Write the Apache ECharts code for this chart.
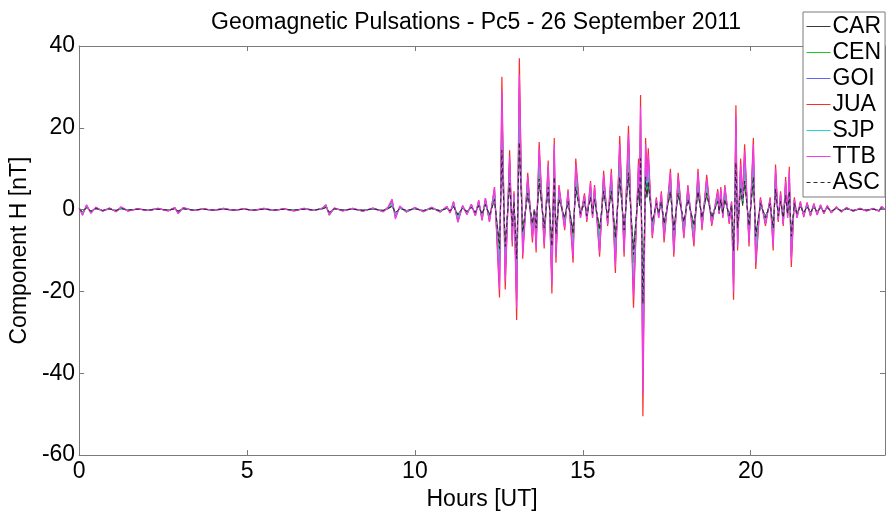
<!DOCTYPE html>
<html>
<head>
<meta charset="utf-8">
<script src="https://cdn.jsdelivr.net/npm/echarts@6/dist/echarts.min.js"></script>
<style>
  html, body { margin: 0; padding: 0; background: #fff; }
  #chart { width: 886px; height: 516px; }
</style>
</head>
<body>
<div id="chart"></div>
<script>
// Pc5 band-filtered H component, 26 September 2011 (hours UT vs nT)
const hours = [
  0, 0.1, 0.22, 0.35, 0.5, 0.7, 0.9, 1.1, 1.25, 1.45,
  1.75, 2.05, 2.35, 2.65, 2.85, 2.95, 3.1, 3.4, 3.7, 4.0,
  4.3, 4.6, 4.9, 5.2, 5.5, 5.8, 6.1, 6.4, 6.7, 7.0,
  7.25, 7.35, 7.45, 7.6, 7.85, 8.15, 8.45, 8.75, 9.05, 9.2,
  9.32, 9.42, 9.55, 9.75, 10.0, 10.25, 10.5, 10.75, 10.95, 11.05,
  11.15, 11.28, 11.42, 11.55, 11.68, 11.8, 11.9, 12.0, 12.1, 12.22, 12.37,
  12.52, 12.59, 12.69, 12.82, 12.9, 12.95, 13.03, 13.11, 13.21, 13.36,
  13.5, 13.56, 13.61, 13.7, 13.85, 13.97, 14.08, 14.15, 14.2, 14.29,
  14.46, 14.56, 14.71, 14.79, 14.93, 15.05, 15.12, 15.23, 15.29, 15.35,
  15.5, 15.62, 15.74, 15.85, 15.97, 16.1, 16.23, 16.36, 16.51, 16.66,
  16.69, 16.72, 16.79, 16.87, 16.91, 16.95, 17.07, 17.19, 17.26, 17.34,
  17.42, 17.61, 17.71, 17.84, 18.01, 18.13, 18.31, 18.43, 18.55, 18.69,
  18.84, 19.02, 19.06, 19.11, 19.17, 19.23, 19.36, 19.43, 19.49, 19.56,
  19.61, 19.7, 19.76, 19.82, 19.95, 20.08, 20.15, 20.29, 20.44, 20.58,
  20.67, 20.74, 20.82, 20.89, 20.97, 21.04, 21.1, 21.15, 21.21, 21.3, 21.38,
  21.48, 21.58, 21.68, 21.78, 21.88, 21.98, 22.08, 22.18, 22.28, 22.4,
  22.55, 22.7, 22.85, 23.05, 23.25, 23.45, 23.65, 23.82, 23.9, 24.0
];

const car = [
  0.3, -0.5, 0.4, -0.3, 0.2, -0.2, 0.1, -0.2, 0.2, -0.1,
  0.1, -0.1, 0.1, -0.1, 0.2, -0.3, 0.2, -0.1, 0.1, -0.1,
  0.1, -0.1, 0.1, -0.1, 0.1, -0.1, 0.1, -0.1, 0.1, -0.1,
  0.2, 0.6, -0.7, 0.2, -0.1, 0.1, -0.1, 0.1, -0.2, 0.2,
  0.8, -0.7, 0.3, -0.2, 0.2, -0.2, 0.2, -0.2, 0.3, -0.3,
  0.7, -1.1, 0.4, -0.4, 0.5, -0.6, 0.9, -1.0, 1.1, -1.2, 2.2,
  -8.5, 13, -8, 6, -3.5, 2, -11, 15, -5, 3.5,
  -3, 0, -4, 6.5, -4, 5, -8, 7, -5, 2.5,
  -2, 2, -5, 5, -1, 1.5, -1, 3, -1, 2.5,
  -4.5, 4, -1.5, 4, -6, 7, -4.5, 8, -9.5, 5,
  1, 11, -20, 7, 3, 6, -3, 1, -1, 2,
  -3, 4, -4.5, 3.5, -3, 2.5, -3.5, 4, -2, 3.5,
  -1.5, 2, -0.5, 2, -1, 2.5, -1.5, 1, -9, 10,
  -4, 5, 1, 6.5, -3.5, 7, -6, 1, -1.5, 1,
  -4, 4.5, -1, 2, -1.5, 3, -1, 4, -5.5, 1, -1,
  0.8, -0.7, 0.7, -0.6, 0.6, -0.5, 0.5, -0.4, 0.4, -0.3,
  0.3, -0.2, 0.2, -0.2, 0.1, -0.1, 0.1, -0.2, 0.3, 0
];

const cen = [
  0.2, -0.6, 0.5, -0.4, 0.3, -0.2, 0.2, -0.2, 0.3, -0.1,
  0.1, -0.1, 0.1, -0.1, 0.3, -0.5, 0.3, -0.1, 0.1, -0.1,
  0.1, -0.1, 0.1, -0.1, 0.1, -0.1, 0.1, -0.1, 0.1, -0.1,
  0.3, 1.3, -1.4, 0.3, -0.1, 0.1, -0.2, 0.2, -0.2, 0.3,
  1.2, -1.0, 0.4, -0.3, 0.3, -0.3, 0.3, -0.3, 0.4, -0.4,
  1.0, -1.6, 0.5, -0.6, 0.7, -0.8, 1.3, -1.4, 1.5, -1.6, 3.0,
  -12, 18, -10.5, 8, -5, 2.5, -15, 20, -6.5, 5,
  -4.5, 0, -6, 9, -5, 6.5, -11, 9.5, -7, 3.5,
  -2.5, 2.5, -7, 7, -1, 2, -1.5, 4, -1, 3.5,
  -6.5, 5, -2, 5.5, -8.5, 10, -6.5, 11.5, -13, 7,
  1, 15.5, -28, 9.5, 4.5, 8, -4, 1.5, -1, 2.5,
  -4.5, 5.5, -6.5, 5, -4, 3.5, -5, 5.5, -2.5, 4.5,
  -2, 2.5, -0.5, 3, -1, 3.5, -2, 1, -12, 14,
  -5.5, 7, 1.5, 9, -5, 9.5, -8, 1.5, -2, 1.5,
  -5.5, 6, -1.5, 2.5, -2, 4.5, -1, 6, -7.5, 1.5, -1,
  1.1, -1.0, 1.0, -0.9, 0.8, -0.7, 0.7, -0.6, 0.6, -0.4,
  0.4, -0.3, 0.3, -0.2, 0.2, -0.2, 0.2, -0.2, 0.4, 0
];

const goi = [
  0.3, -1.0, 0.9, -0.7, 0.5, -0.3, 0.3, -0.4, 0.5, -0.3,
  0.2, -0.2, 0.2, -0.2, 0.4, -0.8, 0.4, -0.2, 0.2, -0.2,
  0.2, -0.2, 0.2, -0.2, 0.2, -0.2, 0.2, -0.2, 0.2, -0.2,
  0.3, 0.9, -1.0, 0.3, -0.2, 0.2, -0.3, 0.3, -0.4, 0.5,
  1.8, -1.5, 0.6, -0.5, 0.4, -0.4, 0.5, -0.5, 0.6, -0.6,
  1.5, -2.4, 0.8, -1.0, 1.1, -1.2, 1.9, -2.1, 2.3, -2.5, 4.5,
  -17.5, 26.5, -16, 12, -7.5, 3.5, -22, 30, -10, 7.5,
  -6.5, 0, -8.5, 13.5, -8, 10, -17, 14.5, -10.5, 5,
  -4, 4, -10.5, 10, -1.5, 3.5, -2.5, 5.5, -1.5, 5,
  -9.5, 8, -3.5, 8, -12.5, 15, -9.5, 17, -19.5, 10,
  1.5, 23, -41.5, 14.5, 6.5, 12.5, -5.5, 2.5, -1.5, 3.5,
  -6.5, 8, -9.5, 7.5, -5.5, 5, -7.5, 8, -4, 7,
  -3.5, 4, -1, 4.5, -1.5, 5, -3, 1.5, -18, 21,
  -8, 10, 2.5, 13, -7.5, 14.5, -12, 2.5, -3.5, 2.5,
  -8, 9, -2.5, 3.5, -3.5, 6.5, -1.5, 8.5, -11.5, 2.5, -1.5,
  1.6, -1.5, 1.5, -1.3, 1.2, -1.1, 1.0, -0.8, 0.8, -0.7,
  0.6, -0.5, 0.4, -0.3, 0.2, -0.2, 0.2, -0.3, 0.6, 0
];

const jua = [
  0.4, -1.3, 1.1, -0.8, 0.6, -0.4, 0.4, -0.5, 0.6, -0.3,
  0.2, -0.2, 0.3, -0.3, 0.5, -0.9, 0.5, -0.2, 0.2, -0.2,
  0.3, -0.2, 0.2, -0.2, 0.3, -0.2, 0.2, -0.3, 0.3, -0.2,
  0.4, 1.1, -1.3, 0.4, -0.3, 0.3, -0.4, 0.4, -0.5, 0.6,
  2.4, -2.0, 0.8, -0.6, 0.5, -0.5, 0.6, -0.6, 0.8, -0.8,
  1.9, -3.0, 1.0, -1.2, 1.3, -1.5, 2.3, -2.6, 2.8, -3.0, 5.5,
  -21.5, 32.5, -19.5, 14.5, -9, 4.5, -27, 37, -12, 9,
  -8, 0, -10.5, 16.5, -9.5, 12, -20.5, 17.5, -13, 6,
  -5, 5, -13, 12.5, -2, 4, -3, 7, -2, 6,
  -11.5, 9.5, -4, 10, -15.5, 18, -11.5, 20.5, -24, 12.5,
  2, 28, -50.5, 17.5, 8, 15, -7, 3, -2, 4.5,
  -8, 10, -11.5, 9, -7, 6, -9, 10, -5, 8.5,
  -4, 5, -1, 5.5, -2, 6, -3.5, 2, -22, 25.5,
  -10, 12.5, 3, 16, -9, 17.5, -14.5, 3, -4, 3,
  -10, 11, -3, 4.5, -4, 8, -2, 10.5, -14, 3, -2,
  2.0, -1.8, 1.8, -1.6, 1.5, -1.3, 1.2, -1.0, 1.0, -0.8,
  0.7, -0.6, 0.5, -0.4, 0.3, -0.3, 0.3, -0.4, 0.8, 0
];

const sjp = [
  0.4, -0.9, 0.8, -0.6, 0.4, -0.3, 0.3, -0.3, 0.4, -0.2,
  0.1, -0.1, 0.2, -0.2, 0.4, -0.6, 0.3, -0.1, 0.1, -0.1,
  0.2, -0.1, 0.1, -0.1, 0.2, -0.1, 0.1, -0.2, 0.2, -0.1,
  0.3, 1.0, -1.1, 0.3, -0.2, 0.2, -0.3, 0.3, -0.3, 0.4,
  1.5, -1.3, 0.5, -0.4, 0.3, -0.3, 0.4, -0.4, 0.5, -0.5,
  1.3, -2.0, 0.7, -0.8, 0.9, -1.0, 1.6, -1.8, 1.9, -2.0, 3.7,
  -14.5, 22, -13, 10, -6, 3, -18.5, 25, -8, 6,
  -5.5, 0, -7, 11, -6.5, 8, -14, 12, -9, 4,
  -3.5, 3.5, -9, 8.5, -1.5, 2.5, -2, 5, -1.5, 4,
  -8, 6.5, -2.5, 7, -10.5, 12, -8, 14, -16.5, 8.5,
  1.5, 19, -34, 12, 5.5, 10, -5, 2, -1.5, 3,
  -5.5, 7, -8, 6, -5, 4, -6, 7, -3.5, 6,
  -2.5, 3.5, -0.5, 3.5, -1.5, 4, -2.5, 1.5, -15, 17.5,
  -7, 8.5, 2, 11, -6, 12, -10, 2, -2.5, 2,
  -7, 7.5, -2, 3, -2.5, 5.5, -1.5, 7, -9.5, 2, -1.5,
  1.4, -1.2, 1.2, -1.1, 1.0, -0.9, 0.8, -0.7, 0.7, -0.5,
  0.5, -0.4, 0.3, -0.3, 0.2, -0.2, 0.2, -0.3, 0.5, 0
];

const ttb = [
  0.5, -1.4, 1.2, -0.9, 0.6, -0.4, 0.4, -0.5, 0.7, -0.3,
  0.2, -0.2, 0.3, -0.3, 0.5, -1.0, 0.5, -0.2, 0.2, -0.2,
  0.3, -0.2, 0.2, -0.2, 0.3, -0.2, 0.2, -0.3, 0.3, -0.2,
  0.4, 1.0, -1.2, 0.4, -0.3, 0.3, -0.4, 0.4, -0.5, 0.6,
  2.6, -2.3, 0.9, -0.6, 0.5, -0.5, 0.6, -0.6, 0.8, -0.8,
  2.0, -3.1, 1.0, -1.2, 1.3, -1.5, 2.3, -2.6, 2.8, -3.0, 5.4,
  -19.5, 29, -17.5, 13, -8, 4, -24, 33, -11, 8,
  -7, 0, -9.5, 15, -8.5, 11, -18.5, 16, -11.5, 5.5,
  -4.5, 4.5, -11.5, 11, -2, 3.5, -2.5, 6.5, -2, 5.5,
  -10.5, 8.5, -3.5, 9, -14, 16, -10.5, 18.5, -21.5, 11,
  2, 25, -45, 16, 7, 13.5, -6.5, 2.5, -2, 4,
  -7, 9, -10.5, 8, -6.5, 5.5, -8, 9, -4.5, 7.5,
  -3.5, 4.5, -1, 5, -2, 5.5, -3, 2, -20, 23,
  -9, 11, 2.5, 14.5, -8, 16, -13, 2.5, -3.5, 2.5,
  -9, 10, -2.5, 4, -3.5, 7, -2, 9.5, -12.5, 2.5, -2,
  1.8, -1.6, 1.6, -1.4, 1.4, -1.2, 1.1, -0.9, 0.9, -0.7,
  0.6, -0.5, 0.5, -0.4, 0.3, -0.3, 0.3, -0.4, 0.8, 0
];

const asc = [
  0.2, -0.6, 0.5, -0.4, 0.3, -0.2, 0.2, -0.2, 0.3, -0.1,
  0.1, -0.1, 0.1, -0.1, 0.2, -0.4, 0.2, -0.1, 0.1, -0.1,
  0.1, -0.1, 0.1, -0.1, 0.1, -0.1, 0.1, -0.1, 0.1, -0.1,
  0.2, 0.5, -0.6, 0.2, -0.1, 0.1, -0.2, 0.2, -0.2, 0.3,
  0.9, -0.8, 0.3, -0.2, 0.2, -0.2, 0.3, -0.3, 0.3, -0.3,
  0.8, -1.3, 0.4, -0.5, 0.6, -0.7, 1.0, -1.2, 1.3, -1.4, 2.5,
  -9.5, 14.5, -9, 6.5, -4, 2, -12, 16.5, -5.5, 4,
  -3.5, 0, -4.5, 7.5, -4.5, 5.5, -9, 8, -6, 2.5,
  -2, 2, -6, 5.5, -1, 2, -1.5, 3, -1, 2.5,
  -5, 4.5, -2, 4.5, -7, 8, -5, 9, -11, 5.5,
  1, 12.5, -23, 8, 3.5, 7, -3, 1.5, -1, 2,
  -3.5, 4.5, -5, 4, -3, 2.5, -4, 4.5, -2, 4,
  -2, 2, -0.5, 2.5, -1, 2.5, -1.5, 1, -10, 11.5,
  -4.5, 5.5, 1.5, 7, -4, 8, -6.5, 1.5, -2, 1.5,
  -4.5, 5, -1.5, 2, -2, 3.5, -1, 4.5, -6.5, 1.5, -1,
  0.9, -0.8, 0.8, -0.7, 0.7, -0.6, 0.5, -0.5, 0.5, -0.4,
  0.3, -0.3, 0.2, -0.2, 0.1, -0.1, 0.1, -0.2, 0.4, 0
];

const stations = ['CAR', 'CEN', 'GOI', 'JUA', 'SJP', 'TTB', 'ASC'];
const stationValues = [car, cen, goi, jua, sjp, ttb, asc];
const stationColors = ['#3a3a3a', '#1ec81e', '#6464f5', '#ff2a2a', '#1ed8d8', '#ee3cee', '#2a2a2a'];
const stationWidths = [1, 1, 1.1, 1.2, 1, 1.2, 1];
const stationDash = ['solid', 'solid', 'solid', 'solid', 'solid', 'solid', [4, 3]];

const xTicks = { min: 0, max: 24, interval: 5 };
const yTicks = { min: -60, max: 40, interval: 20 };

const FONT = "'Liberation Sans', Arial, sans-serif";
const frame = '#7a7a7a';

const chart = echarts.init(document.getElementById('chart'), null, { renderer: 'canvas' });

const series = stations.map((name, k) => ({
  name: name,
  type: 'line',
  xAxisIndex: 0,
  yAxisIndex: 0,
  symbol: 'none',
  showSymbol: false,
  smooth: false,
  animation: false,
  lineStyle: { color: stationColors[k], width: stationWidths[k], type: stationDash[k] },
  itemStyle: { color: stationColors[k] },
  data: hours.map((h, i) => [h, stationValues[k][i]])
}));

const axisCommon = {
  type: 'value',
  splitLine: { show: false },
  axisLine: { show: true, onZero: false, lineStyle: { color: frame, width: 1 } },
  axisTick: { show: true, inside: true, length: 5, lineStyle: { color: frame } }
};

chart.setOption({
  animation: false,
  backgroundColor: '#ffffff',
  title: {
    text: 'Geomagnetic Pulsations - Pc5 - 26 September 2011',
    left: 206,
    top: 6,
    textStyle: { fontFamily: FONT, fontSize: 23, fontWeight: 'normal', color: '#000' }
  },
  legend: {
    data: stations,
    orient: 'vertical',
    left: 803,
    top: 12,
    padding: [3, 4, 3, 3],
    itemGap: 3,
    itemWidth: 24,
    itemHeight: 10,
    itemStyle: { opacity: 0 },
    lineStyle: { width: 1 },
    backgroundColor: '#ffffff',
    borderColor: frame,
    borderWidth: 1,
    textStyle: { fontFamily: FONT, fontSize: 23, color: '#000', lineHeight: 23, padding: [0, 0, 0, -3] }
  },
  grid: { left: 77, right: 1, top: 46, bottom: 52, containLabel: false },
  xAxis: [
    Object.assign({}, axisCommon, {
      position: 'bottom',
      min: xTicks.min, max: xTicks.max, interval: xTicks.interval,
      name: 'Hours [UT]',
      nameLocation: 'middle',
      nameGap: 22,
      nameTextStyle: { fontFamily: FONT, fontSize: 23, color: '#000', verticalAlign: 'top' },
      axisLabel: { show: true, showMaxLabel: false, margin: 5, fontFamily: FONT, fontSize: 23, color: '#000' }
    }),
    Object.assign({}, axisCommon, {
      position: 'top',
      min: xTicks.min, max: xTicks.max, interval: xTicks.interval,
      axisLabel: { show: false }
    })
  ],
  yAxis: [
    Object.assign({}, axisCommon, {
      position: 'left',
      min: yTicks.min, max: yTicks.max, interval: yTicks.interval,
      name: 'Component H [nT]',
      nameLocation: 'middle',
      nameGap: 42,
      nameTextStyle: { fontFamily: FONT, fontSize: 23, color: '#000' },
      axisLabel: { show: true, margin: 4, fontFamily: FONT, fontSize: 23, color: '#000' }
    }),
    Object.assign({}, axisCommon, {
      position: 'right',
      min: yTicks.min, max: yTicks.max, interval: yTicks.interval,
      axisLabel: { show: false }
    })
  ],
  series: series
});
</script>
</body>
</html>
